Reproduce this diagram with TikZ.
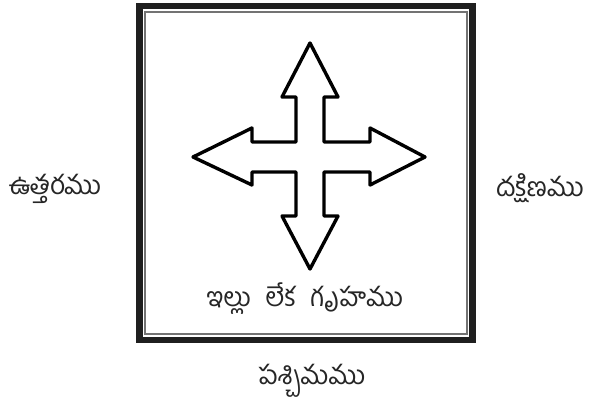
\documentclass[tikz,border=0pt]{standalone}
\usepackage{fontspec}
\newfontfamily\telugu[Script=Telugu]{Hind Guntur}
\begin{document}
\begin{tikzpicture}[x=1pt,y=-1pt,
  lbl/.style={font=\telugu\fontsize{26.5}{30}\selectfont, inner sep=0pt, anchor=base, text=black!85},
  frameout/.style={draw=black!88, line width=6.5pt},
  framein/.style={draw=black!55, line width=1.3pt},
  cross/.style={draw=black, line width=3.4pt, line join=round, fill=white}]
\useasboundingbox (0,0) rectangle (593,401);
\draw[frameout] (139.5,6) rectangle (472.5,340);
\draw[framein] (145,12) rectangle (467,334);
\draw[cross] (310,43) -- (338,97) -- (324,97) -- (324,142) -- (370,142) -- (370,128)
  -- (425,157) -- (370,185) -- (370,172) -- (324,172) -- (324,216) -- (338,216)
  -- (310,269) -- (282,216) -- (296,216) -- (296,172) -- (252,172) -- (252,185)
  -- (193,157) -- (252,128) -- (252,142) -- (296,142) -- (296,97) -- (282,97) -- cycle;
\node[lbl] (north) at (55,194) {ఉత్తరము};
\node[lbl] (south) at (540,196) {దక్షిణము};
\node[lbl] (house) at (305,306) {ఇల్లు\hspace{0.55em}లేక\hspace{0.55em}గృహము};
\node[lbl, text depth=6pt] (west) at (312,384) {పశ్చిమము};
\end{tikzpicture}
\end{document}
